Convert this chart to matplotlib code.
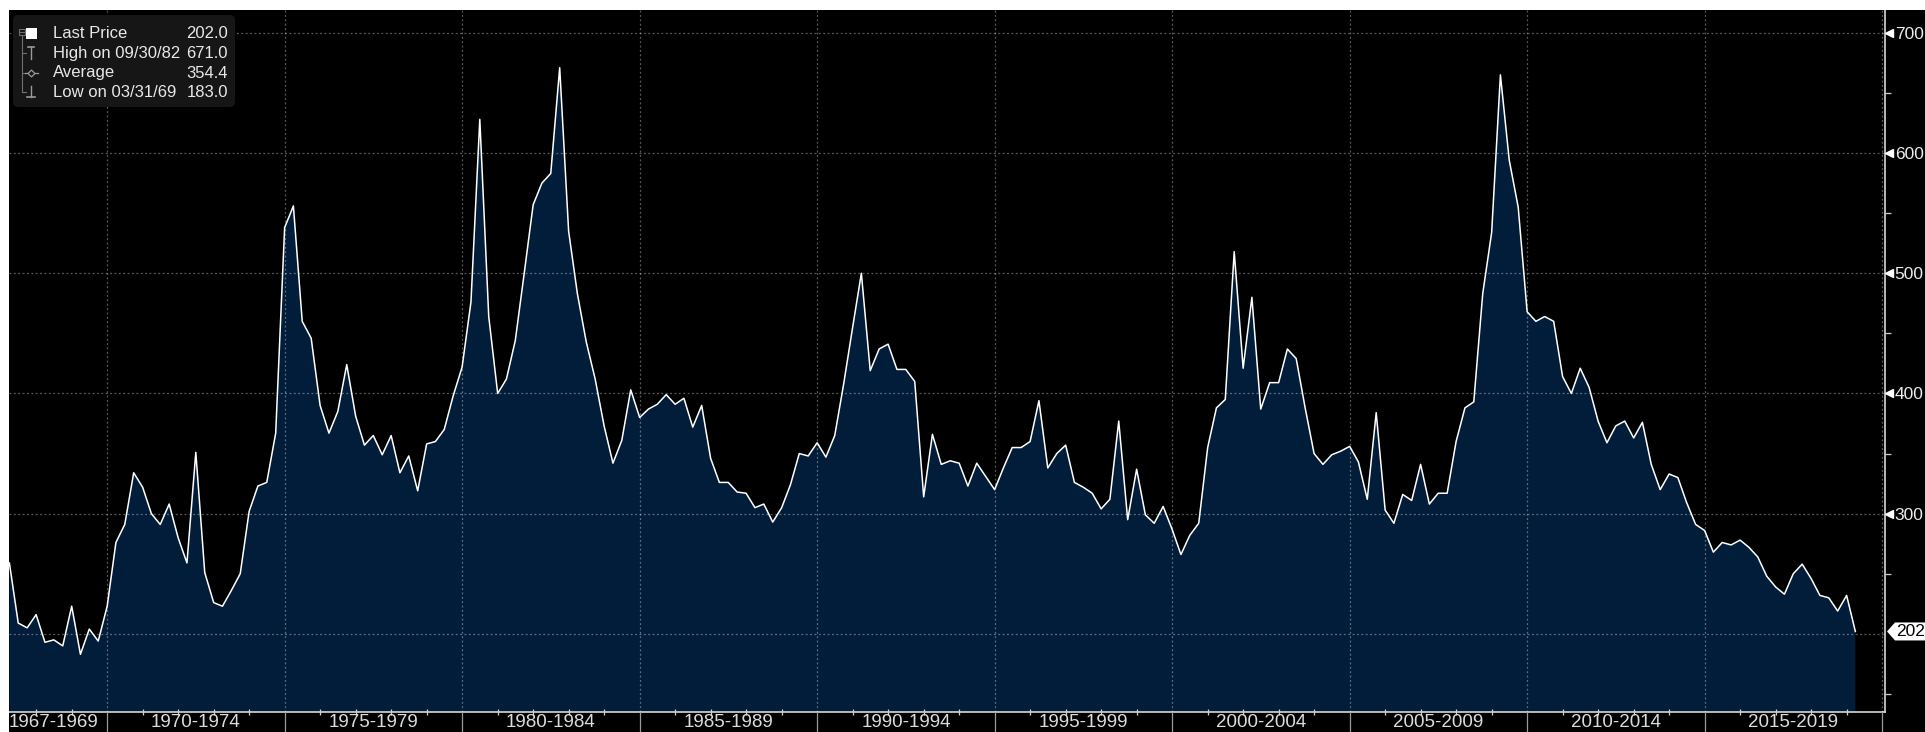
import matplotlib
matplotlib.use("Agg")
import matplotlib.pyplot as plt
import matplotlib.dates as mdates
import matplotlib.transforms as mtransforms
from matplotlib.patches import Rectangle, FancyBboxPatch, Polygon
import numpy as np
import pandas as pd

plt.rcParams['font.family'] = ['Liberation Sans', 'DejaVu Sans']

# quarterly closes, 1967 Q1 .. 2019 Q1
start_quarter = "1967Q1"
values = [
    259, 209, 205, 216, 193, 195, 190, 223, 183, 204,
    194, 223, 276, 291, 334, 322, 300, 291, 308, 280,
    259, 351, 251, 226, 223, 236, 250, 302, 323, 326,
    367, 538, 556, 460, 446, 390, 367, 385, 424, 381,
    357, 365, 349, 365, 334, 348, 319, 358, 360, 370,
    398, 422, 476, 628, 464, 400, 412, 444, 500, 557,
    575, 583, 671, 535, 483, 443, 412, 373, 342, 361,
    403, 380, 387, 391, 399, 391, 396, 372, 390, 346,
    326, 326, 318, 317, 305, 308, 293, 305, 324, 350,
    348, 359, 347, 365, 408, 455, 500, 419, 437, 441,
    420, 420, 410, 314, 366, 341, 344, 342, 323, 342,
    331, 320, 338, 355, 355, 360, 394, 338, 350, 357,
    326, 322, 317, 304, 312, 377, 295, 337, 299, 292,
    306, 287, 266, 282, 292, 355, 388, 395, 518, 421,
    480, 387, 409, 409, 437, 429, 388, 350, 341, 349,
    352, 356, 343, 312, 384, 303, 292, 316, 311, 341,
    308, 317, 317, 360, 388, 393, 483, 534, 665, 594,
    555, 468, 460, 464, 460, 414, 400, 421, 405, 377,
    359, 373, 377, 363, 376, 341, 320, 333, 330, 309,
    291, 286, 268, 276, 274, 278, 272, 264, 248, 239,
    233, 250, 258, 246, 232, 230, 219, 232, 202,
]

legend_rows = [
    ("Last Price", "202.0"),
    ("High on 09/30/82", "671.0"),
    ("Average", "354.4"),
    ("Low on 03/31/69", "183.0"),
]
period_labels = ["1967-1969", "1970-1974", "1975-1979", "1980-1984", "1985-1989",
                 "1990-1994", "1995-1999", "2000-2004", "2005-2009", "2010-2014",
                 "2015-2019"]
y_ticks = [200, 300, 400, 500, 600, 700]
y_labels = ["", "300", "400", "500", "600", "700"]

W, H = 1925, 732
fig = plt.figure(figsize=(W / 100, H / 100), dpi=100)
fig.patch.set_facecolor("black")

# plot area in pixels: x 9..1885, y 10..712 (from top)
ax = fig.add_axes([9 / W, (H - 712) / H, (1885 - 9) / W, (712 - 10) / H])
ax.set_facecolor("black")

dates = pd.period_range(start_quarter, periods=len(values), freq="Q").end_time.normalize()

ax.fill_between(dates, values, 0, color="#021d39", lw=0, zorder=1)
ax.plot(dates, values, color="white", lw=1.1, zorder=3)

ax.set_xlim(pd.Timestamp("1967-03-27"), pd.Timestamp("2020-01-30"))
ax.set_ylim(135, 719)

# grid drawn over the fill
ax.set_axisbelow(False)
ax.grid(True, which="major", color="white", alpha=0.36, lw=0.9, ls=(0, (1.5, 2)))

for s in ["left", "top"]:
    ax.spines[s].set_visible(False)
for s in ["right", "bottom"]:
    ax.spines[s].set_color("#d8d8d8")
    ax.spines[s].set_linewidth(1.2)

# x axis: 5-year separators, yearly minor ticks, labels centred in periods
ax.xaxis.set_major_locator(mdates.YearLocator(5))
ax.xaxis.set_minor_locator(mdates.YearLocator(1))
ax.tick_params(axis="x", which="major", direction="out", length=15, width=0.9,
               color="#9a9a9a", labelbottom=False)
ax.tick_params(axis="x", which="minor", direction="inout", length=5, width=0.9,
               color="#d0d0d0")
xlab_tr = mtransforms.blended_transform_factory(ax.transData, ax.transAxes)
for lab in period_labels:
    a, b = [int(v) for v in lab.split("-")]
    t0 = pd.Timestamp(f"{a}-01-01")
    t1 = pd.Timestamp(f"{b + 1}-01-01")
    ax.text(t0 + (t1 - t0) / 2, -10.5 / 702, lab, transform=xlab_tr,
            ha="center", va="center", color="#dcdcdc", fontsize=13.5)

# y axis on the right
ax.yaxis.tick_right()
ax.set_yticks(y_ticks)
ax.set_yticklabels(y_labels)
ax.set_yticks(np.arange(150, 700, 100), minor=True)
ax.tick_params(axis="y", which="major", length=0, pad=7, labelcolor="#ececec",
               labelsize=12.5)
ax.tick_params(axis="y", which="minor", direction="out", length=4, width=0.9,
               color="#d0d0d0")
ytr = mtransforms.blended_transform_factory(ax.transAxes, ax.transData)
tri_tr = mtransforms.offset_copy(ytr, fig, x=4, y=0, units="dots")
lab_ticks = [t for t, l in zip(y_ticks, y_labels) if l]
ax.plot([1.0] * len(lab_ticks), lab_ticks, transform=tri_tr, ls="none",
        marker="<", ms=5.5, color="white", mec="white", clip_on=False, zorder=5)

# last value badge
last = values[-1]
badge_tr = mtransforms.Affine2D() + mtransforms.ScaledTranslation(1.0, last, ytr)
badge = Polygon([(2, 0), (10, 9), (80, 9), (80, -9), (10, -9)], closed=True,
                transform=badge_tr, facecolor="white", edgecolor="none",
                clip_on=False, zorder=6)
ax.add_patch(badge)
ax.text(11, -0.5, f"{last:.1f}", transform=badge_tr, ha="left", va="center",
        color="black", fontsize=12.5, clip_on=False, zorder=7)

# overlay in pixel coordinates for legend and page border
ov = fig.add_axes([0, 0, 1, 1], zorder=10)
ov.set_xlim(0, W)
ov.set_ylim(H, 0)
ov.axis("off")
ov.patch.set_alpha(0)

ov.add_patch(FancyBboxPatch((13, 15), 222, 92, boxstyle="round,pad=0,rounding_size=5",
                            facecolor="#161616", edgecolor="none"))
tree = "#707070"
ov.add_patch(Rectangle((18.5, 28.5), 6, 6, facecolor="none", edgecolor=tree, lw=0.8))
ov.plot([19.5, 23.5], [31.5, 31.5], color=tree, lw=0.8)
ov.plot([21.5, 21.5], [34.5, 92], color=tree, lw=0.8)
for yy in [53, 73, 92]:
    ov.plot([21.5, 26], [yy, yy], color=tree, lw=0.8)
ov.add_patch(Rectangle((26, 28), 11, 11, facecolor="white", edgecolor="none"))
icon = "#9a9a9a"
ov.plot([31, 31], [47, 59], color=icon, lw=1.0)
ov.plot([28, 34], [47, 47], color=icon, lw=1.2)
ov.plot([25, 38], [73, 73], color=icon, lw=0.9)
ov.plot([31], [73], marker="D", ms=3.5, mfc="#161616", mec=icon, mew=0.9)
ov.plot([31, 31], [86, 97], color=icon, lw=1.0)
ov.plot([27, 35], [97, 97], color=icon, lw=1.2)
for i, (name, val) in enumerate(legend_rows):
    yy = 34 + i * 19.5
    ov.text(53, yy, name, ha="left", va="center", color="#e8e8e8", fontsize=12)
    ov.text(228, yy, val, ha="right", va="center", color="#e8e8e8", fontsize=12)

# white page border on top and left
ov.add_patch(Rectangle((0, 0), W, 10, facecolor="white", edgecolor="none"))
ov.add_patch(Rectangle((0, 0), 9, H, facecolor="white", edgecolor="none"))

fig.savefig("out.png", dpi=100, facecolor=fig.get_facecolor())
